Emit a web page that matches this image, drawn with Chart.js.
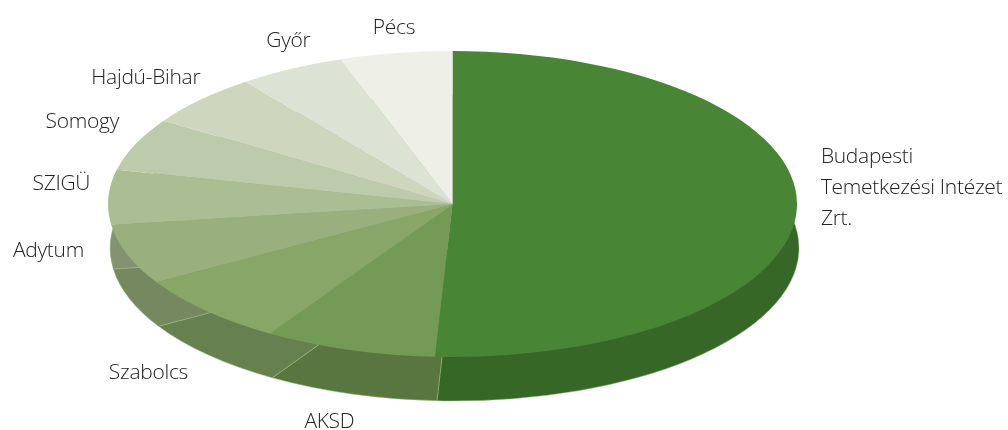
<!DOCTYPE html>
<html>
<head>
<meta charset="utf-8">
<style>html,body{margin:0;padding:0;background:#fff}#w{width:1008px;height:430px}</style>
<script src="https://cdn.jsdelivr.net/npm/chart.js@4"></script>
</head>
<body>
<div id="w"><canvas id="c" width="1008" height="430"></canvas></div>
<script>
const categories = [["Budapesti","Temetkezési Intézet","Zrt."],"AKSD","Szabolcs","Adytum","SZIGÜ","Somogy","Hajdú-Bihar","Győr","Pécs"];
const shares = [50.81,8.06,7.58,6.36,5.78,5.58,5.58,5.0,5.25];
const topColors = ["#488534","#739b55","#87a668","#99b07e","#abbd92","#bccba9","#ced7bd","#dde3d4","#eef0e8"];
const sideColors = ["#366727","#5a7640","#67804f","#768860","#84926f","#8e9a80","#9aa28d","#a6aa9f","#b3b4ae"];
const labelNudge = [[24,-20],[-20,72],[-58,62],[-79,-4],[-47,-13],[-53,-22],[-55,-22],[-3,-28],[-2,-25]];

const PIE = {cx:452.5, cy:204, rx:344.5, ry:153, baseDx:2, baseDy:44};

function place(ctx, arc, dx, dy){
  ctx.translate(PIE.cx + dx, PIE.cy + dy);
  ctx.scale(1, PIE.ry / PIE.rx);
  ctx.translate(-arc.x, -arc.y);
}
const pie3d = {
  id:'pie3d',
  beforeDatasetsDraw(chart){
    const ctx = chart.ctx, arcs = chart.getDatasetMeta(0).data;
    ctx.save();
    place(ctx, arcs[0], PIE.baseDx, PIE.baseDy);
    arcs.forEach((arc,i)=>{
      const keep = arc.options;
      arc.options = Object.assign({}, keep, {backgroundColor:sideColors[i], borderColor:'rgba(150,190,125,0.7)', borderWidth:1, borderJoinStyle:'bevel'});
      arc.draw(ctx);
      arc.options = keep;
    });
    ctx.restore();
    ctx.save();
    place(ctx, arcs[0], 0, 0);
  },
  afterDatasetsDraw(chart){
    const ctx = chart.ctx, arcs = chart.getDatasetMeta(0).data;
    ctx.restore();
    ctx.save();
    ctx.fillStyle = '#222222';
    ctx.font = '300 21px "Open Sans"';
    ctx.letterSpacing = '-0.3px';
    ctx.textBaseline = 'middle';
    arcs.forEach((arc,i)=>{
      const mid = (arc.startAngle + arc.endAngle)/2;
      const px = PIE.cx + PIE.rx*Math.cos(mid), py = PIE.cy + PIE.ry*Math.sin(mid);
      const x = px + labelNudge[i][0], y = py + labelNudge[i][1];
      const lines = [].concat(categories[i]);
      ctx.textAlign = lines.length > 1 ? 'left' : 'center';
      lines.forEach((t,k)=>ctx.fillText(t, x, y + (k - (lines.length-1)/2)*31));
    });
    ctx.restore();
  }
};

new Chart(document.getElementById('c'), {
  type:'pie',
  data:{labels:categories.map(c=>[].concat(c).join(' ')), datasets:[{data:shares, backgroundColor:topColors, borderWidth:0}]},
  options:{
    responsive:false, animation:false, devicePixelRatio:1, radius:PIE.rx,
    layout:{padding:0},
    plugins:{legend:{display:false}, tooltip:{enabled:false}}
  },
  plugins:[pie3d]
});
</script>
</body>
</html>
